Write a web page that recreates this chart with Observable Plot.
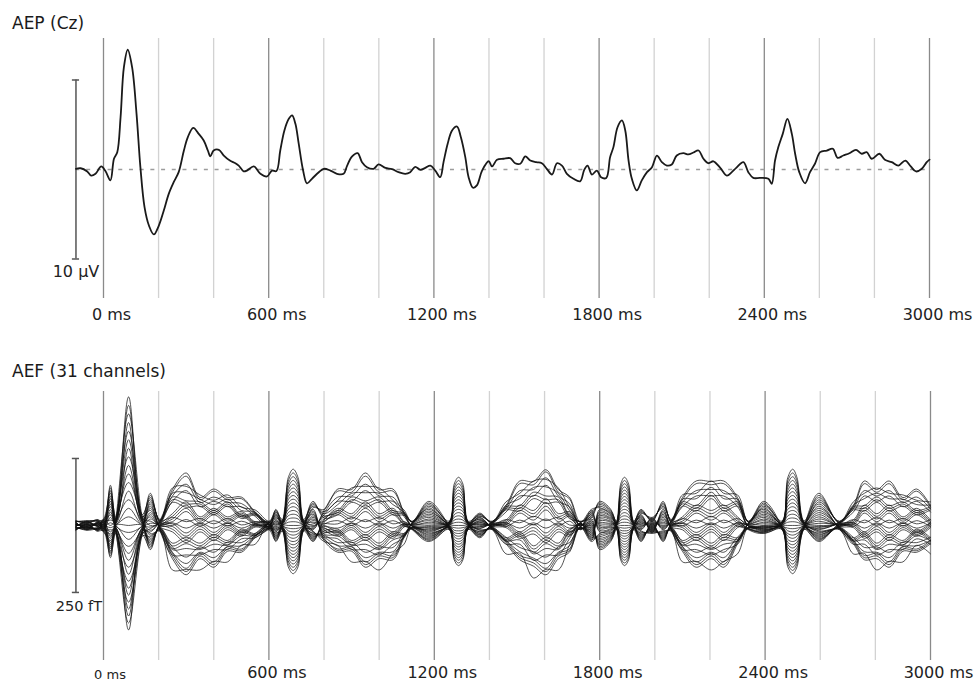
<!DOCTYPE html>
<html><head><meta charset="utf-8">
<script src="https://cdn.jsdelivr.net/npm/d3@7"></script>
<script src="https://cdn.jsdelivr.net/npm/@observablehq/plot@0.6"></script>
<style>
html,body{margin:0;padding:0;background:#fff;}
#wrap{position:relative;width:976px;height:684px;overflow:hidden;background:#fff;font-family:"DejaVu Sans",sans-serif;}
.title{position:absolute;left:12px;font-size:17px;line-height:17px;color:#1a1a1a;white-space:nowrap;}
#top,#bot{position:absolute;left:0;}
</style></head><body>
<div id="wrap">
<div id="top" style="top:0"></div>
<div id="bot" style="top:340px"></div>
<div class="title" style="top:15px">AEP (Cz)</div>
<div class="title" style="top:363px">AEF (31 channels)</div>
</div>
<script>
// ---- tick positions (ms) ----
const majorTicks = [0, 600, 1200, 1800, 2400, 3000];
const minorTicks = [200, 400, 800, 1000, 1400, 1600, 2000, 2200, 2600, 2800];
const tickUnit = " ms";

// ---- scale bars ----
const aepScaleBar = [-5, 5];      // µV
const aepScaleLabel = "10 µV";
const aefScaleBar = [-125, 125];  // fT
const aefScaleLabel = "250 fT";

// ---- AEP (Cz) waveform: time (ms) and amplitude (µV) ----
const aepTime = [-100,-83,-59,-45,-29,-8,7,25,38,50,62,74,88,104,120,134,149,165,183,201,219,237,255,273,292,306,326,346,364,379,388,400,419,437,459,479,491,509,521,546,570,594,612,628,642,657,673,685,697,709,725,739,757,782,800,824,848,872,885,903,923,939,957,981,999,1024,1048,1072,1096,1114,1132,1151,1169,1187,1205,1223,1235,1250,1266,1284,1298,1314,1326,1342,1356,1375,1399,1411,1429,1453,1477,1495,1514,1532,1550,1572,1592,1610,1629,1647,1665,1683,1707,1731,1746,1758,1774,1792,1807,1826,1840,1852,1867,1883,1895,1907,1919,1937,1955,1974,1992,2010,2028,2046,2064,2082,2106,2124,2143,2161,2179,2197,2215,2240,2264,2282,2298,2324,2342,2360,2385,2415,2427,2439,2451,2467,2484,2500,2512,2527,2548,2566,2584,2603,2627,2649,2666,2687,2709,2733,2754,2772,2790,2818,2838,2863,2887,2912,2932,2951,2972,2990,3000];
const aepValue = [0.04,0.07,-0.11,-0.34,-0.24,0.17,-0.09,-0.61,0.6,0.97,2.92,5.7,6.69,5.7,3.11,0.13,-2.1,-3.13,-3.63,-3.13,-2.29,-1.36,-0.71,-0.15,1.06,1.8,2.33,1.99,1.62,1.06,0.73,1.06,1.1,0.78,0.5,0.35,0.22,-0.1,-0.06,0.17,-0.24,-0.39,-0.06,-0.09,1.06,2.18,2.83,3.02,2.55,1.44,-0.06,-0.77,-0.52,-0.15,0.04,-0.06,-0.24,-0.24,0.22,0.73,0.91,0.41,0.13,0.04,0.28,0.09,0.02,-0.15,-0.24,-0.15,0.15,-0.02,0.09,0.22,-0.06,-0.43,0.41,1.44,2.18,2.4,1.8,0.69,-0.43,-1.02,-0.89,-0.06,0.46,0.17,0.54,0.6,0.63,0.35,0.32,0.73,0.5,0.41,0.35,0.04,-0.28,0.35,0.22,-0.24,-0.52,-0.66,-0.02,0.22,-0.28,-0.06,-0.43,-0.47,0.69,1.25,2.36,2.74,2.18,0.5,-0.52,-1.17,-0.61,-0.15,0.13,0.78,0.41,0.22,0.28,0.78,0.91,0.84,0.95,1.06,0.6,0.35,0.46,0.09,-0.34,-0.15,0.09,0.41,-0.15,-0.47,-0.47,-0.52,-0.8,0.5,1.25,1.99,2.83,1.99,0.88,-0.15,-0.77,-0.15,0.32,0.97,1.06,1.16,0.65,0.78,0.91,1.1,0.88,0.97,0.6,0.88,0.54,0.41,0.22,0.5,0.17,-0.11,0.04,0.41,0.55];

// ---- AEF: sample times (ms) and, per time, the 31 channel values (fT) ----
const aefTime = [-100,-60,-20,0,25,45,91,140,170,205,250,300,350,400,450,500,550,600,625,650,670,688,706,725,760,800,850,900,950,1000,1050,1090,1120,1180,1255,1272,1288,1304,1322,1365,1410,1460,1510,1560,1605,1650,1690,1730,1770,1800,1840,1862,1876,1890,1905,1922,1950,1990,2030,2060,2100,2150,2205,2250,2300,2340,2395,2462,2482,2500,2516,2540,2595,2670,2720,2760,2805,2850,2900,2950,3000];
const aefSamples = [
[-4,3,-8,-1,6,-5,2,9,-2,5,-7,1,8,-4,4,-8,-1,7,-5,2,-9,-2,5,-6,1,8,-3,4,-7,0,7],
[-7,-2,2,6,-8,-4,0,4,8,-6,-2,2,7,-8,-4,1,5,9,-5,-1,3,7,-7,-3,1,5,-9,-5,-1,4,8],
[-5,4,-10,-1,7,-6,2,11,-3,6,-8,1,9,-4,4,-9,-1,8,-6,3,-11,-2,6,-7,1,10,-4,5,-8,0,8],
[-12,-11,-10,-10,-9,-8,-7,-6,-6,-5,-4,-3,-2,-2,-1,0,1,2,2,3,4,5,6,6,7,8,9,10,10,11,12],
[-28,25,-56,-8,50,-36,15,75,-16,40,-44,5,65,-24,30,-52,-4,55,-32,20,-60,-12,45,-40,10,70,-20,35,-48,0,60],
[-15,-14,-13,-12,-11,-10,-9,-8,-7,-6,-5,-4,-3,-2,-1,0,1,2,3,4,5,6,7,8,9,10,11,12,13,14,15],
[-195,-182,-169,-156,-143,-130,-117,-104,-91,-78,-65,-52,-39,-26,-13,0,16,32,48,64,80,96,112,128,144,160,176,192,208,224,240],
[-20,-18,-17,-16,-14,-13,-12,-10,-9,-8,-7,-5,-4,-3,-1,0,1,3,4,5,7,8,9,10,12,13,14,16,17,18,20],
[-21,20,-42,-6,40,-27,12,60,-12,32,-33,4,52,-18,24,-39,-3,44,-24,16,-45,-9,36,-30,8,56,-15,28,-36,0,48],
[-8,-3,2,7,-10,-5,0,5,10,-7,-2,3,8,-9,-4,1,6,11,-6,-1,4,8,-8,-4,1,6,-11,-6,-1,4,9],
[-50,-12,7,45,-62,-43,5,43,62,-55,-7,12,60,-57,-38,0,48,67,-40,-2,17,55,-52,-33,15,53,-83,-45,3,22,70],
[-71,-32,26,65,-92,-34,-5,34,92,-55,-26,32,61,-86,-28,11,40,98,-59,-20,38,77,-80,-22,7,46,-82,-43,-14,44,73],
[-50,-12,4,35,-62,-43,5,36,48,-55,-7,8,49,-57,-38,-1,40,52,-40,-2,12,43,-52,-33,13,44,-83,-45,3,16,57],
[-60,-28,20,45,-78,-27,-5,20,64,-45,-23,24,39,-73,-22,9,24,68,-50,-18,28,53,-68,-17,3,28,-67,-35,-13,32,47],
[-39,-8,4,35,-48,-36,5,36,48,-45,-4,8,49,-44,-32,-1,40,52,-31,0,12,43,-40,-28,13,44,-68,-37,4,16,57],
[-38,-20,17,35,-50,-13,-5,13,50,-25,-17,20,28,-47,-10,8,16,53,-32,-14,23,41,-44,-7,1,19,-37,-19,-11,26,34],
[-19,-3,1,17,-23,-19,3,19,23,-23,-1,3,25,-21,-17,-1,21,25,-15,1,5,21,-19,-15,7,23,-35,-19,3,7,29],
[-8,-7,-7,-6,-6,-5,-5,-4,-4,-3,-3,-2,-2,-1,-1,0,1,1,2,2,3,3,4,4,5,5,6,6,7,7,8],
[-14,10,-28,-4,20,-18,6,30,-8,16,-22,2,26,-12,12,-26,-2,22,-16,8,-30,-6,18,-20,4,28,-10,14,-24,0,24],
[-11,-10,-9,-8,-8,-7,-6,-6,-5,-4,-4,-3,-2,-1,-1,0,1,1,2,3,4,4,5,6,6,7,8,8,9,10,11],
[-77,-71,-66,-61,-56,-51,-46,-41,-36,-31,-26,-20,-15,-10,-5,0,6,12,18,24,30,36,42,48,54,60,65,71,77,83,89],
[-90,-84,-78,-72,-66,-60,-54,-48,-42,-36,-30,-24,-18,-12,-6,0,7,14,21,28,35,42,49,56,63,70,77,84,91,98,105],
[-77,-71,-66,-61,-56,-51,-46,-41,-36,-31,-26,-20,-15,-10,-5,0,6,12,18,24,30,36,42,48,54,60,65,71,77,83,89],
[-11,-10,-9,-8,-8,-7,-6,-6,-5,-4,-4,-3,-2,-1,-1,0,1,1,2,3,4,4,5,6,6,7,8,8,9,10,11],
[-14,15,-28,-4,30,-18,9,45,-8,24,-22,3,39,-12,18,-26,-2,33,-16,12,-30,-6,27,-20,6,42,-10,21,-24,0,36],
[-22,-8,6,20,-28,-14,0,14,28,-20,-6,8,22,-26,-12,2,16,30,-18,-4,10,24,-24,-10,4,18,-30,-16,-2,12,26],
[-38,-20,20,45,-50,-13,-5,20,64,-25,-17,24,39,-47,-10,9,24,68,-32,-14,28,53,-44,-7,3,28,-37,-19,-11,32,47],
[-39,-8,7,45,-48,-36,5,43,62,-45,-4,12,60,-44,-32,0,48,67,-31,0,17,55,-40,-28,15,53,-68,-37,4,22,70],
[-60,-28,26,65,-78,-27,-5,34,92,-45,-23,32,61,-73,-22,11,40,98,-50,-18,38,77,-68,-17,7,46,-67,-35,-13,44,73],
[-50,-12,7,45,-62,-43,5,43,62,-55,-7,12,60,-57,-38,0,48,67,-40,-2,17,55,-52,-33,15,53,-83,-45,3,22,70],
[-49,-24,20,45,-64,-20,-5,20,64,-35,-20,24,39,-60,-16,9,24,68,-41,-16,28,53,-56,-12,3,28,-52,-27,-12,32,47],
[-19,-3,1,17,-23,-19,3,19,23,-23,-1,3,25,-21,-17,-1,21,25,-15,1,5,21,-19,-15,7,23,-35,-19,3,7,29],
[-4,3,-7,-1,5,-5,2,8,-2,4,-6,1,7,-3,3,-7,-1,6,-4,2,-8,-2,5,-5,1,7,-3,4,-6,0,6],
[-14,15,-28,-4,30,-18,9,45,-8,24,-22,3,39,-12,18,-26,-2,33,-16,12,-30,-6,27,-20,6,42,-10,21,-24,0,36],
[-8,-7,-7,-6,-6,-5,-5,-4,-4,-3,-3,-2,-2,-1,-1,0,1,1,2,2,3,3,4,4,5,5,6,6,7,7,8],
[-64,-60,-55,-51,-47,-43,-38,-34,-30,-26,-21,-17,-13,-9,-4,0,5,10,15,20,26,31,36,41,46,51,56,61,66,71,77],
[-75,-70,-65,-60,-55,-50,-45,-40,-35,-30,-25,-20,-15,-10,-5,0,6,12,18,24,30,36,42,48,54,60,66,72,78,84,90],
[-64,-60,-55,-51,-47,-43,-38,-34,-30,-26,-21,-17,-13,-9,-4,0,5,10,15,20,26,31,36,41,46,51,56,61,66,71,77],
[-8,-7,-7,-6,-6,-5,-5,-4,-4,-3,-3,-2,-2,-1,-1,0,1,1,2,2,3,3,4,4,5,5,6,6,7,7,8],
[-11,8,-21,-3,15,-14,5,23,-6,12,-17,2,20,-9,9,-20,-2,17,-12,6,-23,-5,14,-15,3,21,-8,11,-18,0,18],
[-6,-2,2,5,-7,-4,0,4,7,-5,-2,2,6,-7,-3,1,4,8,-5,-1,3,6,-6,-3,1,5,-8,-4,-1,3,7],
[-28,-4,1,25,-34,-29,5,29,34,-35,-1,4,38,-31,-26,-2,32,37,-22,2,7,31,-28,-23,11,35,-53,-29,5,10,44],
[-49,-24,23,55,-64,-20,-5,27,78,-35,-20,28,50,-60,-16,10,32,83,-41,-16,33,65,-56,-12,5,37,-52,-27,-12,38,60],
[-61,-16,10,55,-76,-50,5,50,76,-65,-10,16,71,-70,-44,1,56,82,-49,-4,22,67,-64,-38,17,62,-98,-53,2,28,83],
[-71,-32,29,75,-92,-34,-5,41,100,-55,-26,36,72,-86,-28,12,48,104,-59,-20,43,89,-80,-22,9,55,-82,-43,-14,50,86],
[-50,-12,7,45,-62,-43,5,43,62,-55,-7,12,60,-57,-38,0,48,67,-40,-2,17,55,-52,-33,15,53,-83,-45,3,22,70],
[-38,-20,17,35,-50,-13,-5,13,50,-25,-17,20,28,-47,-10,8,16,53,-32,-14,23,41,-44,-7,1,19,-37,-19,-11,26,34],
[-4,3,-7,-1,5,-5,2,8,-2,4,-6,1,7,-3,3,-7,-1,6,-4,2,-8,-2,5,-5,1,7,-3,4,-6,0,6],
[-22,-8,6,20,-28,-14,0,14,28,-20,-6,8,22,-26,-12,2,16,30,-18,-4,10,24,-24,-10,4,18,-30,-16,-2,12,26],
[-21,15,-42,-6,30,-27,9,45,-12,24,-33,3,39,-18,18,-39,-3,33,-24,12,-45,-9,27,-30,6,42,-15,21,-36,0,36],
[-14,10,-28,-4,20,-18,6,30,-8,16,-22,2,26,-12,12,-26,-2,22,-16,8,-30,-6,18,-20,4,28,-10,14,-24,0,24],
[-8,-7,-7,-6,-6,-5,-5,-4,-4,-3,-3,-2,-2,-1,-1,0,1,1,2,2,3,3,4,4,5,5,6,6,7,7,8],
[-64,-60,-55,-51,-47,-43,-38,-34,-30,-26,-21,-17,-13,-9,-4,0,5,10,15,20,26,31,36,41,46,51,56,61,66,71,77],
[-75,-70,-65,-60,-55,-50,-45,-40,-35,-30,-25,-20,-15,-10,-5,0,6,12,18,24,30,36,42,48,54,60,66,72,78,84,90],
[-64,-60,-55,-51,-47,-43,-38,-34,-30,-26,-21,-17,-13,-9,-4,0,5,10,15,20,26,31,36,41,46,51,56,61,66,71,77],
[-8,-7,-7,-6,-6,-5,-5,-4,-4,-3,-3,-2,-2,-1,-1,0,1,1,2,2,3,3,4,4,5,5,6,6,7,7,8],
[-14,10,-28,-4,20,-18,6,30,-8,16,-22,2,26,-12,12,-26,-2,22,-16,8,-30,-6,18,-20,4,28,-10,14,-24,0,24],
[-11,-4,3,10,-14,-7,0,7,14,-10,-3,4,11,-13,-6,1,8,15,-9,-2,5,12,-12,-5,2,9,-15,-8,-1,6,13],
[-14,15,-28,-4,30,-18,9,45,-8,24,-22,3,39,-12,18,-26,-2,33,-16,12,-30,-6,27,-20,6,42,-10,21,-24,0,36],
[-8,-3,2,7,-10,-5,0,5,10,-7,-2,3,8,-9,-4,1,6,11,-6,-1,4,8,-8,-4,1,6,-11,-6,-1,4,9],
[-39,-8,4,35,-48,-36,5,36,48,-45,-4,8,49,-44,-32,-1,40,52,-31,0,12,43,-40,-28,13,44,-68,-37,4,16,57],
[-60,-28,23,55,-78,-27,-5,27,78,-45,-23,28,50,-73,-22,10,32,83,-50,-18,33,65,-68,-17,5,37,-67,-35,-13,38,60],
[-50,-12,10,55,-62,-43,5,50,76,-55,-7,16,71,-57,-38,1,56,82,-40,-2,22,67,-52,-33,17,62,-83,-45,3,28,83],
[-60,-28,23,55,-78,-27,-5,27,78,-45,-23,28,50,-73,-22,10,32,83,-50,-18,33,65,-68,-17,5,37,-67,-35,-13,38,60],
[-28,-4,4,35,-34,-29,5,36,48,-35,-1,8,49,-31,-26,-1,40,52,-22,2,12,43,-28,-23,13,44,-53,-29,5,16,57],
[-4,3,-7,-1,5,-5,2,8,-2,4,-6,1,7,-3,3,-7,-1,6,-4,2,-8,-2,5,-5,1,7,-3,4,-6,0,6],
[-7,15,-14,-2,30,-9,9,45,-4,24,-11,3,39,-6,18,-13,-1,33,-8,12,-15,-3,27,-10,6,42,-5,21,-12,0,36],
[-8,-7,-7,-6,-6,-5,-5,-4,-4,-3,-3,-2,-2,-1,-1,0,1,1,2,2,3,3,4,4,5,5,6,6,7,7,8],
[-77,-71,-66,-61,-56,-51,-46,-41,-36,-31,-26,-20,-15,-10,-5,0,6,12,18,24,30,36,42,48,54,60,65,71,77,83,89],
[-90,-84,-78,-72,-66,-60,-54,-48,-42,-36,-30,-24,-18,-12,-6,0,7,14,21,28,35,42,49,56,63,70,77,84,91,98,105],
[-77,-71,-66,-61,-56,-51,-46,-41,-36,-31,-26,-20,-15,-10,-5,0,6,12,18,24,30,36,42,48,54,60,65,71,77,83,89],
[-8,-7,-7,-6,-6,-5,-5,-4,-4,-3,-3,-2,-2,-1,-1,0,1,1,2,2,3,3,4,4,5,5,6,6,7,7,8],
[-14,20,-28,-4,40,-18,12,60,-8,32,-22,4,52,-12,24,-26,-2,44,-16,16,-30,-6,36,-20,8,56,-10,28,-24,0,48],
[-6,-2,2,5,-7,-4,0,4,7,-5,-2,2,6,-7,-3,1,4,8,-5,-1,3,6,-6,-3,1,5,-8,-4,-1,3,7],
[-28,-4,1,25,-34,-29,5,29,34,-35,-1,4,38,-31,-26,-2,32,37,-22,2,7,31,-28,-23,11,35,-53,-29,5,10,44],
[-49,-24,23,55,-64,-20,-5,27,78,-35,-20,28,50,-60,-16,10,32,83,-41,-16,33,65,-56,-12,5,37,-52,-27,-12,38,60],
[-50,-12,7,45,-62,-43,5,43,62,-55,-7,12,60,-57,-38,0,48,67,-40,-2,17,55,-52,-33,15,53,-83,-45,3,22,70],
[-60,-28,23,55,-78,-27,-5,27,78,-45,-23,28,50,-73,-22,10,32,83,-50,-18,33,65,-68,-17,5,37,-67,-35,-13,38,60],
[-39,-8,4,35,-48,-36,5,36,48,-45,-4,8,49,-44,-32,-1,40,52,-31,0,12,43,-40,-28,13,44,-68,-37,4,16,57],
[-38,-20,20,45,-50,-13,-5,20,64,-25,-17,24,39,-47,-10,9,24,68,-32,-14,28,53,-44,-7,3,28,-37,-19,-11,32,47],
[-28,-4,1,25,-34,-29,5,29,34,-35,-1,4,38,-31,-26,-2,32,37,-22,2,7,31,-28,-23,11,35,-53,-29,5,10,44]
];

// ---- build tables ----
const aep = aepTime.map((t, i) => ({t, v: aepValue[i]}));
const aef = [];
aefSamples.forEach((row, k) => row.forEach((v, ch) => aef.push({t: aefTime[k], v, ch})));

const fmt = d => d + tickUnit;
const gridMinor = {stroke: "#d2d2d2", strokeWidth: 1.3};
const gridMajor = {stroke: "#8a8a8a", strokeWidth: 1.3};
const barStyle = {stroke: "#555", strokeWidth: 1.5};
const baseStyle = {fontFamily: "DejaVu Sans, sans-serif", fontSize: "16px", color: "#222", background: "transparent", overflow: "visible"};

const topPlot = Plot.plot({
  width: 976, height: 335,
  marginTop: 38, marginBottom: 37, marginLeft: 103, marginRight: 47,
  x: {domain: [0, 3000], label: null},
  y: {domain: [-7.207, 7.318], axis: null},
  style: baseStyle,
  marks: [
    Plot.ruleX(minorTicks, gridMinor),
    Plot.ruleX(majorTicks, gridMajor),
    Plot.ruleY([0], {x1: -100, x2: 3000, stroke: "#9c9c9c", strokeWidth: 1.5, strokeDasharray: "4,6.7"}),
    Plot.ruleX([-100], {y1: aepScaleBar[0], y2: aepScaleBar[1], ...barStyle}),
    Plot.ruleY(aepScaleBar, {x1: -113, x2: -87, ...barStyle}),
    Plot.text([aepScaleLabel], {x: -100, y: aepScaleBar[0], text: d => d, textAnchor: "middle", lineAnchor: "top", dy: 7, fontSize: 16, fill: "#222"}),
    Plot.line(aep, {x: "t", y: "v", curve: "catmull-rom", stroke: "#1a1a1a", strokeWidth: 1.8}),
    Plot.axisX(majorTicks, {tickSize: 0, tickPadding: 10.5, tickFormat: fmt, fontSize: 16, dx: 8, label: null})
  ]
});
document.getElementById("top").appendChild(topPlot);

const botPlot = Plot.plot({
  width: 976, height: 344,
  marginTop: 51, marginBottom: 24, marginLeft: 103, marginRight: 46,
  x: {domain: [0, 3000], label: null},
  y: {domain: [-252, 250], axis: null},
  style: baseStyle,
  marks: [
    Plot.ruleX(minorTicks, gridMinor),
    Plot.ruleX(majorTicks, gridMajor),
    Plot.ruleX([-100], {y1: aefScaleBar[0], y2: aefScaleBar[1], ...barStyle}),
    Plot.ruleY(aefScaleBar, {x1: -113, x2: -87, ...barStyle}),
    Plot.text([aefScaleLabel], {x: -100, y: aefScaleBar[0], text: d => d, textAnchor: "middle", lineAnchor: "top", dy: 8, dx: 3, fontSize: 14.5, fill: "#222"}),
    Plot.line(aef, {x: "t", y: "v", z: "ch", curve: "catmull-rom", stroke: "#111", strokeWidth: 0.85, strokeOpacity: 0.85}),
    Plot.axisX(majorTicks.filter(d => d > 0), {tickSize: 0, tickPadding: 6.6, tickFormat: fmt, fontSize: 16, dx: 8, label: null}),
    Plot.axisX(majorTicks.filter(d => d === 0), {tickSize: 0, tickPadding: 8.8, tickFormat: fmt, fontSize: 13, dx: 6.5, label: null})
  ]
});
document.getElementById("bot").appendChild(botPlot);
</script>
</body></html>
